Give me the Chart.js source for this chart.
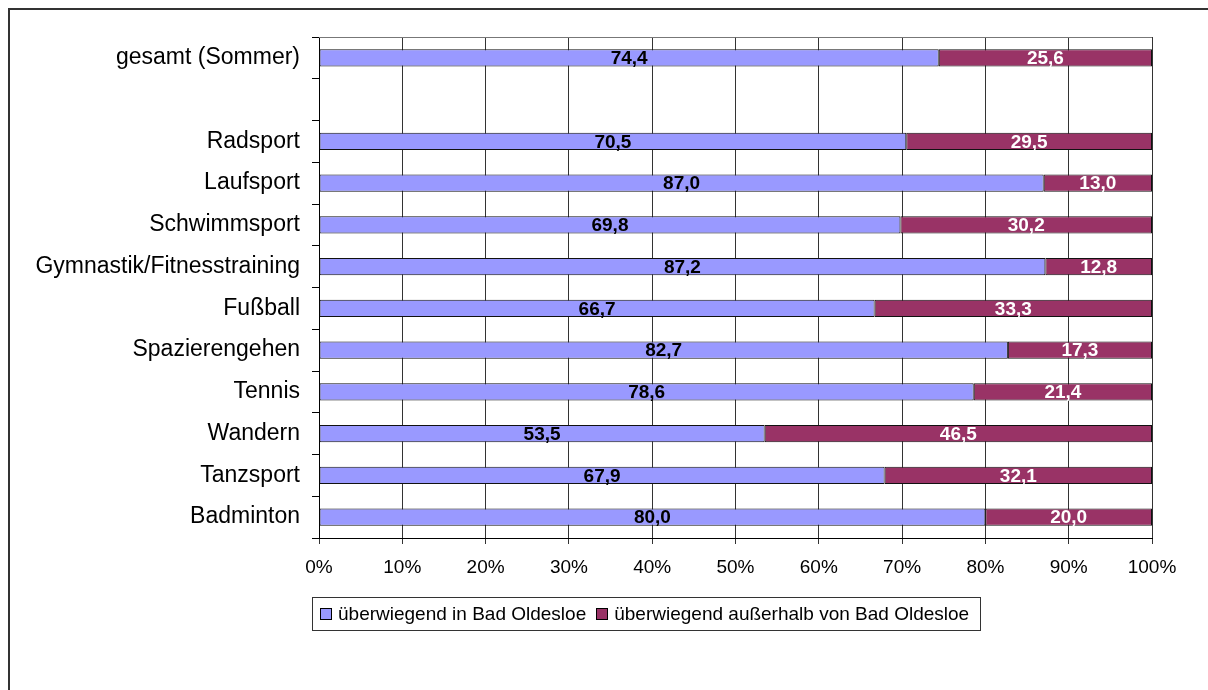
<!DOCTYPE html>
<html>
<head>
<meta charset="utf-8">
<script src="https://cdn.jsdelivr.net/npm/chart.js@4/dist/chart.umd.min.js"></script>
<style>
  body { margin: 0; background: #fff; font-family: "Liberation Sans", Arial, sans-serif; }
  #wrap { position: relative; width: 1208px; height: 690px; overflow: hidden; }
  #frame { position: absolute; left: 8px; top: 8px; width: 1260px; height: 760px; border: 2px solid #333; }
  #legend {
    position: absolute; left: 312px; top: 597px; width: 667px; height: 32px;
    border: 1px solid #333; display: flex; align-items: center; font-size: 19px; color: #000;
    white-space: nowrap;
  }
  .sw { display: inline-block; width: 10px; height: 10px; border: 1px solid #000; margin: 0 6px 0 0; }
  .item { display: flex; align-items: center; }
</style>
</head>
<body>
<div id="wrap">
  <div id="frame"></div>
  <canvas id="chart" width="1208" height="690"></canvas>
  <div id="legend"></div>
</div>
<script>
// data
const categories = ['gesamt (Sommer)', '', 'Radsport', 'Laufsport', 'Schwimmsport',
  'Gymnastik/Fitnesstraining', 'Fußball', 'Spazierengehen', 'Tennis', 'Wandern',
  'Tanzsport', 'Badminton'];
const inOldesloe = [74.4, null, 70.5, 87.0, 69.8, 87.2, 66.7, 82.7, 78.6, 53.5, 67.9, 80.0];
const ausserhalb = [25.6, null, 29.5, 13.0, 30.2, 12.8, 33.3, 17.3, 21.4, 46.5, 32.1, 20.0];
const seriesNames = ['überwiegend in Bad Oldesloe', 'überwiegend außerhalb von Bad Oldesloe'];
const xTicks = [0, 10, 20, 30, 40, 50, 60, 70, 80, 90, 100];

const colors = ['#9999FF', '#993366'];
const labelColors = ['#000', '#fff'];

// value labels in the middle of each segment
const valueLabels = {
  id: 'valueLabels',
  afterDatasetsDraw(chart) {
    const ctx = chart.ctx;
    ctx.save();
    ctx.font = 'bold 19px "Liberation Sans", Arial, sans-serif';
    ctx.textAlign = 'center';
    ctx.textBaseline = 'middle';
    chart.data.datasets.forEach((ds, i) => {
      chart.getDatasetMeta(i).data.forEach((bar, j) => {
        const v = ds.data[j];
        if (v == null) return;
        ctx.fillStyle = labelColors[i];
        ctx.fillText(v.toFixed(1).replace('.', ','), (bar.x + bar.base) / 2, bar.y + 1);
      });
    });
    ctx.restore();
  }
};

// top edge of the plot area
const plotFrame = {
  id: 'plotFrame',
  beforeDatasetsDraw(chart) {
    const a = chart.chartArea, ctx = chart.ctx;
    ctx.save();
    ctx.strokeStyle = '#777';
    ctx.lineWidth = 1;
    ctx.beginPath();
    ctx.moveTo(a.left, a.top + 0.5);
    ctx.lineTo(a.right, a.top + 0.5);
    ctx.stroke();
    ctx.restore();
  }
};

new Chart(document.getElementById('chart'), {
  type: 'bar',
  data: {
    labels: categories,
    datasets: [
      { label: seriesNames[0], data: inOldesloe, backgroundColor: colors[0] },
      { label: seriesNames[1], data: ausserhalb, backgroundColor: colors[1] }
    ].map(d => Object.assign(d, {
      borderColor: '#111', borderWidth: 1, borderSkipped: false,
      barPercentage: 0.41, categoryPercentage: 1
    }))
  },
  options: {
    indexAxis: 'y',
    responsive: false,
    animation: false,
    layout: { padding: { top: 37, right: 56, bottom: 0, left: 0 } },
    plugins: { legend: { display: false }, tooltip: { enabled: false } },
    scales: {
      x: {
        stacked: true, min: 0, max: 100,
        afterBuildTicks: s => { s.ticks = xTicks.map(v => ({ value: v })); },
        afterFit: s => { s.height = 152; },
        grid: { color: '#333', tickLength: 6, drawOnChartArea: true },
        border: { color: '#000', width: 1 },
        ticks: {
          padding: 12, color: '#000',
          font: { family: '"Liberation Sans", Arial, sans-serif', size: 19 },
          callback: v => v + '%'
        }
      },
      y: {
        stacked: true,
        afterFit: s => { s.width = 319; },
        grid: { drawOnChartArea: false, color: '#000', tickLength: 7 },
        border: { color: '#000', width: 1 },
        ticks: {
          padding: 12, color: '#000', autoSkip: false,
          font: { family: '"Liberation Sans", Arial, sans-serif', size: 23 }
        }
      }
    }
  },
  plugins: [plotFrame, valueLabels]
});

// legend box below the plot
const legend = document.getElementById('legend');
seriesNames.forEach((name, i) => {
  const item = document.createElement('span');
  item.className = 'item';
  item.style.marginLeft = i === 0 ? '7px' : '10px';
  item.innerHTML = '<span class="sw" style="background:' + colors[i] + '"></span>' + name;
  legend.appendChild(item);
});
</script>
</body>
</html>
